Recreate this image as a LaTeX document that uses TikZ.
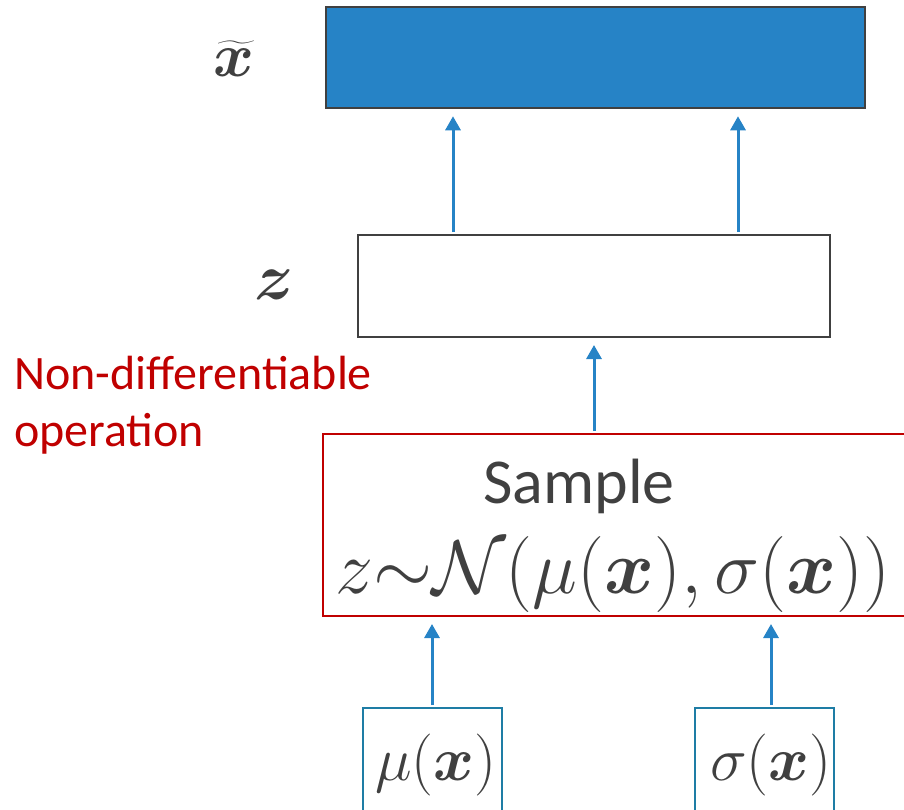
\RequirePackage{fix-cm}
\documentclass[tikz,border=0pt]{standalone}
\usepackage{amsmath,bm}
\usepackage{fontspec}
\setmainfont{Carlito}
\usetikzlibrary{arrows.meta}
\definecolor{fillblue}{RGB}{38,131,198}
\definecolor{arrblue}{RGB}{38,131,198}
\definecolor{dgray}{RGB}{64,64,64}
\definecolor{redc}{RGB}{192,0,0}
\definecolor{tealbox}{RGB}{30,125,165}
\tikzset{
  boxbase/.style={rectangle, inner sep=0pt, line width=2pt},
  arr/.style={draw=arrblue, line width=3pt, -{Triangle[width=15pt,length=14pt]}, shorten >=7pt, shorten <=2pt},
  txt/.style={inner sep=0pt, text=dgray},
}
\begin{document}
\begin{tikzpicture}[x=1pt,y=-1pt]
\useasboundingbox (0,0) rectangle (904,809);
\clip (0,0) rectangle (904,809);
% boxes
\node[boxbase, fill=fillblue, draw=dgray, line width=2.5pt, minimum width=539pt, minimum height=101pt] (xt) at (595.5,57.5) {};
\node[boxbase, draw=dgray, minimum width=472pt, minimum height=102pt] (z) at (594,286) {};
\node[boxbase, draw=redc, minimum width=602pt, minimum height=182pt] (samp) at (624,525) {};
\node[boxbase, draw=tealbox, minimum width=139pt, minimum height=124pt] (mu) at (432.5,770) {};
\node[boxbase, draw=tealbox, minimum width=139pt, minimum height=124pt] (sg) at (764.5,770) {};
% labels
\node[txt, anchor=base, font=\fontsize{62}{66}\selectfont] (lx) at (234,76) {$\widetilde{\bm{x}}$};
\node[txt, anchor=base, font=\fontsize{66}{70}\selectfont] (lz) at (274,299) {$\bm{z}$};
\node[inner sep=0pt, anchor=base west, align=left, text=redc, font=\fontsize{48}{57}\selectfont] (nd) at (14,446) {Non-differentiable\\operation};
\node[txt, anchor=base, font=\fontsize{64}{70}\selectfont] (st) at (579,503) {Sample};
\node[txt, anchor=base, font=\fontsize{76}{80}\selectfont] (sf) at (613,593) {$z{\sim}\mathcal{N}(\mu(\bm{x}),\sigma(\bm{x}))$};
\node[txt, anchor=base, font=\fontsize{62}{66}\selectfont] (mut) at (436,780) {$\mu(\bm{x})$};
\node[txt, anchor=base, font=\fontsize{62}{66}\selectfont] (sgt) at (771,780) {$\sigma(\bm{x})$};
% arrow columns
\coordinate (c1) at (453,0);
\coordinate (c2) at (738,0);
\coordinate (c3) at (594,0);
\coordinate (c4) at (432,0);
\coordinate (c5) at (771,0);
\draw[arr] (z.north -| c1) -- (xt.south -| c1);
\draw[arr] (z.north -| c2) -- (xt.south -| c2);
\draw[arr] (samp.north -| c3) -- (z.south -| c3);
\draw[arr] (mu.north -| c4) -- (samp.south -| c4);
\draw[arr] (sg.north -| c5) -- (samp.south -| c5);
\end{tikzpicture}
\end{document}
